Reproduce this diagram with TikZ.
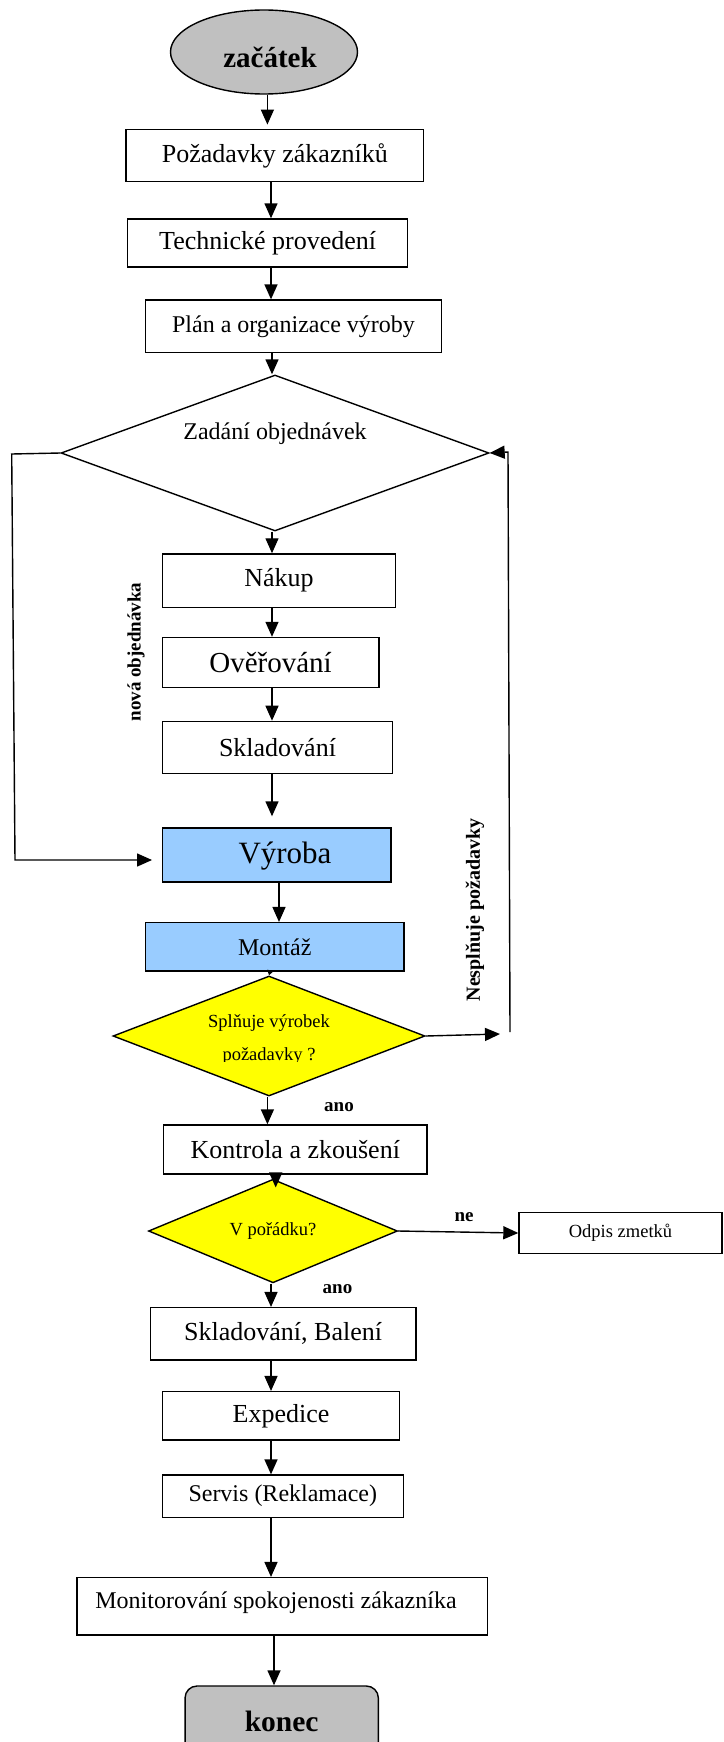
\documentclass[tikz,border=0pt]{standalone}
\usepackage{fontspec}
\setmainfont{Liberation Serif}
\usetikzlibrary{shapes.geometric,arrows.meta}
\definecolor{termgray}{HTML}{C0C0C0}
\definecolor{procblue}{HTML}{99CCFF}
\definecolor{decyellow}{HTML}{FFFF00}
\newcommand\fsz[1]{\fontsize{#1}{#1}\selectfont}

\begin{document}
\begin{tikzpicture}[x=1pt, y=-1pt,
  line width=1.4pt,
  box/.style={draw, rectangle, inner sep=0pt, line width=1.4pt, fill=white},
  dec/.style={draw, diamond, inner sep=0pt, line width=1.4pt, fill=decyellow},
  arr/.style={-{Triangle[length=15pt,width=13pt]}, line width=1.4pt},
  tinyarr/.style={-{Triangle[length=5pt,width=6pt]}, line width=1.4pt},
  lbl/.style={inner sep=0pt, font=\bfseries\fsz{19}},
  txt/.style={inner sep=0pt},
]
\useasboundingbox (0,0) rectangle (723,1742);
\clip (0,0) rectangle (723,1742);

% column guides for the vertical connectors
\coordinate (c267) at (267.4,0);
\coordinate (c270) at (270,0);
\coordinate (c271) at (271,0);
\coordinate (c272) at (272,0);
\coordinate (c274) at (274,0);
\coordinate (c276) at (275.7,0);
\coordinate (c279) at (279,0);

% terminal and process nodes
\node[draw, ellipse, inner sep=0pt, minimum width=187pt, minimum height=84pt,
      fill=termgray] (start) at (264,52) {};
\node[txt, font=\bfseries\fsz{29}] (starttxt) at (270,57) {začátek};
\node[box, minimum width=297.8pt, minimum height=52.4pt, font=\fsz{26}] (req) at (274.8,155.5) {Požadavky zákazníků};
\node[box, minimum width=279.9pt, minimum height=48pt, font=\fsz{26}] (tech) at (267.7,243) {Technické provedení};
\node[box, minimum width=296.5pt, minimum height=52.7pt, font=\fsz{24}] (plan) at (293.5,326.4) {Plán a organizace výroby};

\node[draw, diamond, inner sep=0pt, line width=1.4pt, minimum width=428pt, minimum height=156pt] (order) at (275,453) {};
\node[txt, font=\fsz{24}] (ordertxt) at (275,434) {Zadání objednávek};

\node[box, minimum width=233.3pt, minimum height=53.5pt, font=\fsz{26}] (buy) at (279,580.7) {Nákup};
\node[box, minimum width=216.7pt, minimum height=50pt, font=\fsz{29}] (check) at (270.6,662.5) {Ověřování};
\node[box, minimum width=230.5pt, minimum height=52.2pt, font=\fsz{26}] (store) at (277.5,747.5) {Skladování};
\node[box, fill=procblue, minimum width=228.3pt, minimum height=54pt] (vyroba) at (276.9,855) {};
\node[txt, font=\fsz{31}] (vyrobatxt) at (285,856) {Výroba};
\node[box, fill=procblue, minimum width=258.2pt, minimum height=48.3pt, font=\fsz{24}] (montaz) at (274.8,946.8) {Montáž};

\node[dec, minimum width=312pt, minimum height=120pt] (meets) at (269,1036) {};
\begin{scope}
  \clip (100,990) rectangle (440,1061.8);
  \node[txt, font=\fsz{18.5}] (meetsa) at (269,1023.3) {Splňuje výrobek};
  \node[txt, font=\fsz{18.5}] (meetsb) at (269,1056.5) {požadavky ?};
\end{scope}

\node[box, minimum width=263.3pt, minimum height=49pt, font=\fsz{26}] (test) at (295.3,1149.5) {Kontrola a zkoušení};
\node[dec, minimum width=249pt, minimum height=76pt, font=\fsz{18.5}] (ok) at (273,1231) {V pořádku?};
\node[box, minimum width=203pt, minimum height=41pt, font=\fsz{18.5}] (scrap) at (620.5,1233) {Odpis zmetků};

\node[box, minimum width=265.6pt, minimum height=52.3pt, font=\fsz{26}] (pack) at (283.1,1333.8) {Skladování, Balení};
\node[box, minimum width=237.4pt, minimum height=48.3pt, font=\fsz{26}] (ship) at (281,1415.8) {Expedice};
\node[box, minimum width=241.1pt, minimum height=42.3pt, font=\fsz{24}] (service) at (282.8,1496.2) {Servis (Reklamace)};
\node[box, minimum width=410.3pt, minimum height=57.3pt] (monitor) at (282.2,1606.3) {};
\node[txt, font=\fsz{24}] (monitortxt) at (276,1603) {Monitorování spokojenosti zákazníka};
\node[draw, rectangle, rounded corners=12pt, inner sep=0pt, line width=1.4pt, fill=termgray,
      minimum width=193.3pt, minimum height=70pt, font=\bfseries\fsz{29.5}] (stop) at (281.7,1721) {konec};

% loop-back corners and free ends
\coordinate (lT) at (11.7,454);
\coordinate (lB) at (15,860);
\coordinate (rT) at (508,452);
\coordinate (rB) at (510,1032);
\coordinate (rA) at (500,1034);

% main flow
\draw[arr, shorten >=4pt] ([xshift=3.4pt]start.south) -- ([xshift=3.4pt]start.south |- req.north);
\draw[arr] (req.south -| c271) -- (tech.north -| c271);
\draw[arr] (tech.south -| c271) -- (plan.north -| c271);
\draw[arr] (plan.south -| c272) -- (order.north -| c272);
\draw[arr] (order.south -| c272) -- (buy.north -| c272);
\draw[arr] (buy.south -| c272) -- (check.north -| c272);
\draw[arr] (check.south -| c272) -- (store.north -| c272);
\draw[arr, shorten >=11pt] (store.south -| c272) -- (vyroba.north -| c272);
\draw[arr] (vyroba.south -| c279) -- (montaz.north -| c279);
\draw[tinyarr] (montaz.south -| c270) -- (meets.north);
\draw[arr] (meets.south -| c267) -- (test.north -| c267);
\draw[arr] (test.south -| c276) -- ([yshift=-9pt]ok.north -| c276);
\draw[arr] (ok.east) -- (scrap.west);
\draw[arr] (ok.south -| c271) -- (pack.north -| c271);
\draw[arr] (pack.south -| c271) -- (ship.north -| c271);
\draw[arr] (ship.south -| c271) -- (service.north -| c271);
\draw[arr] (service.south -| c271) -- (monitor.north -| c271);
\draw[arr] (monitor.south -| c274) -- (stop.north -| c274);

% new order loop on the left
\draw[arr, shorten >=10pt] (order.west) -- (lT) -- (lB) -- (vyroba.west |- lB);
% rejection loop on the right
\draw[arr] (meets.east) -- (rA);
\draw[arr] (rB) -- (rT) -- (order.east);

% connector labels
\node[lbl, rotate=90] (newordlbl) at (136,652) {nová objednávka};
\node[lbl, font=\bfseries\fsz{20}, rotate=90] (faillbl) at (475,910) {Nesplňuje požadavky};
\node[lbl] (yes1) at (339,1107) {ano};
\node[lbl] (nolbl) at (464,1217) {ne};
\node[lbl] (yes2) at (337.5,1289) {ano};
\end{tikzpicture}
\end{document}
